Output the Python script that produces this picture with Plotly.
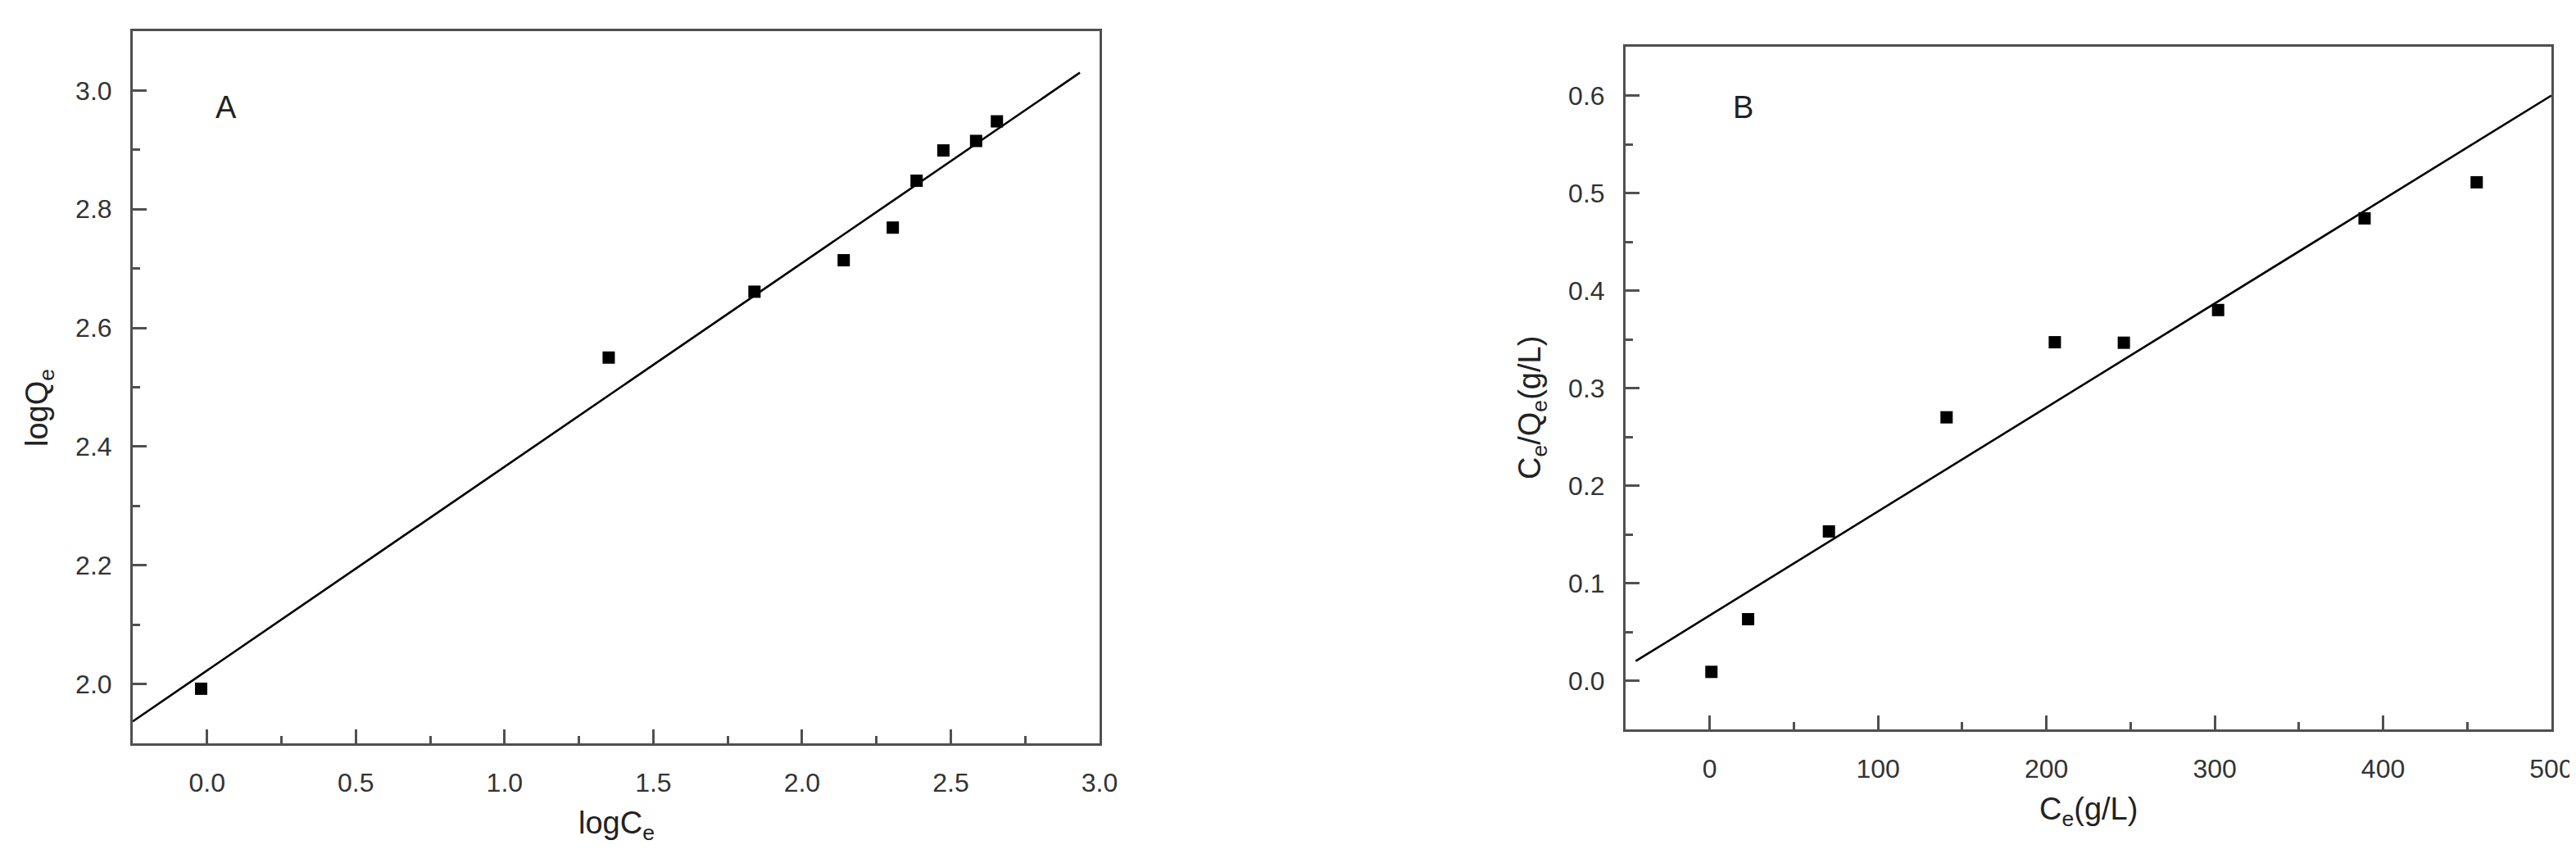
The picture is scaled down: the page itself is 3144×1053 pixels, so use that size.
import plotly.graph_objects as go

# panel A: Freundlich
log_ce = [-0.02, 1.35, 1.84, 2.14, 2.305, 2.385, 2.475, 2.585, 2.655]
log_qe = [1.992, 2.55, 2.661, 2.714, 2.769, 2.848, 2.899, 2.915, 2.948]
fit_a_x = [-0.25, 2.934]
fit_a_y = [1.937, 3.03]

# panel B: Langmuir
ce = [1, 22.8, 70.8, 140.7, 205, 246, 302, 389, 455.6]
ce_qe = [0.009, 0.063, 0.153, 0.27, 0.347, 0.3465, 0.38, 0.474, 0.511]
fit_b_x = [-44, 500]
fit_b_y = [0.02, 0.6]

W, H = 3144, 1053
FONT = "Liberation Sans, Arial, sans-serif"
AXIS_COLOR = "#505050"

fig = go.Figure()

marker = dict(symbol="square", size=15, color="black")
line = dict(color="black", width=2.6)

fig.add_trace(go.Scatter(x=log_ce, y=log_qe, mode="markers", marker=marker,
                         xaxis="x", yaxis="y", showlegend=False))
fig.add_trace(go.Scatter(x=fit_a_x, y=fit_a_y, mode="lines", line=line,
                         xaxis="x", yaxis="y", showlegend=False))
fig.add_trace(go.Scatter(x=ce, y=ce_qe, mode="markers", marker=marker,
                         xaxis="x2", yaxis="y2", showlegend=False))
fig.add_trace(go.Scatter(x=fit_b_x, y=fit_b_y, mode="lines", line=line,
                         xaxis="x2", yaxis="y2", showlegend=False))


def axis(domain, rng, dtick, minor_dtick, anchor, fmt, is_x):
    return dict(
        domain=domain,
        range=rng,
        dtick=dtick,
        tick0=0,
        tickformat=fmt,
        anchor=anchor,
        showgrid=False,
        zeroline=False,
        showline=True,
        mirror=True,
        linecolor=AXIS_COLOR,
        linewidth=3,
        ticks="inside",
        ticklen=17,
        tickwidth=3,
        tickcolor=AXIS_COLOR,
        minor=dict(dtick=minor_dtick, ticks="inside", ticklen=9,
                   tickwidth=3, tickcolor=AXIS_COLOR, showgrid=False),
        tickfont=dict(family=FONT, size=32, color="#333333"),
        ticklabelstandoff=18 if is_x else 16,
        automargin=False,
    )


def px_x(p):
    return p / W


def px_y(p):
    return 1 - p / H


fig.update_layout(
    width=W,
    height=H,
    margin=dict(l=0, r=0, t=0, b=0),
    paper_bgcolor="white",
    plot_bgcolor="white",
    xaxis=axis([px_x(154), px_x(1334)], [-0.25, 3.0], 0.5, 0.25, "y", ".1f", True),
    yaxis=axis([px_y(899), px_y(30)], [1.9, 3.1], 0.2, 0.1, "x", ".1f", False),
    xaxis2=axis([px_x(1976), px_x(3106)], [-50, 500], 100, 50, "y2", "d", True),
    yaxis2=axis([px_y(882), px_y(49)], [-0.05, 0.65], 0.1, 0.05, "x2", ".1f", False),
)

title_font = dict(family=FONT, size=38, color="#222222")
label_font = dict(family=FONT, size=38, color="#222222")

annotations = [
    dict(text="logC<sub>e</sub>", x=px_x(744), y=px_y(999), xref="paper", yref="paper",
         showarrow=False, font=title_font, xanchor="center", yanchor="middle"),
    dict(text="logQ<sub>e</sub>", x=px_x(40), y=px_y(490), xref="paper", yref="paper",
         showarrow=False, font=title_font, textangle=-90, xanchor="center", yanchor="middle"),
    dict(text="C<sub>e</sub>(g/L)", x=px_x(2541), y=px_y(982), xref="paper", yref="paper",
         showarrow=False, font=title_font, xanchor="center", yanchor="middle"),
    dict(text="C<sub>e</sub>/Q<sub>e</sub>(g/L)", x=px_x(1862), y=px_y(490), xref="paper",
         yref="paper", showarrow=False, font=title_font, textangle=-90,
         xanchor="center", yanchor="middle"),
    dict(text="A", x=0.063, y=2.971, xref="x", yref="y", showarrow=False,
         font=label_font, xanchor="center", yanchor="middle"),
    dict(text="B", x=20, y=0.588, xref="x2", yref="y2", showarrow=False,
         font=label_font, xanchor="center", yanchor="middle"),
]
fig.update_layout(annotations=annotations)

fig.write_html("out.html")
